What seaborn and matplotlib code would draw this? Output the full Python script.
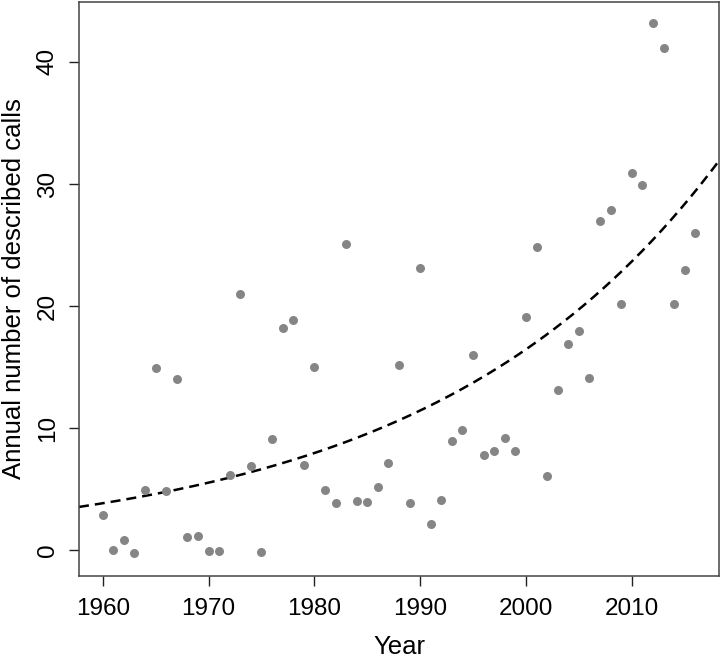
import numpy as np
import pandas as pd
import seaborn as sns
import matplotlib.pyplot as plt

# ======================================
# DATA
# ======================================

years = list(range(1960, 2017))

calls = [
    2.86, 0.05, 0.84, -0.19, 4.96, 14.9, 4.85, 14.04, 1.06, 1.17,
    -0.08, -0.08, 6.13, 20.95, 6.9, -0.1, 9.13, 18.18, 18.86, 7.02,
    15.0, 4.95, 3.89, 25.1, 4.05, 4.0, 5.17, 7.16, 15.14, 3.85,
    23.14, 2.15, 4.15, 8.98, 9.83, 15.96, 7.8, 8.13, 9.19, 8.13,
    19.07, 24.87, 6.08, 13.15, 16.92, 17.95, 14.11, 26.98, 27.85, 20.15,
    30.9, 29.9, 43.17, 41.1, 20.15, 22.93, 25.98,
]

# dashed trend curve, values read at a few years
curve_years = [1958, 1960, 1970, 1980, 1990, 2000, 2010, 2018]
curve_values = [3.57, 3.9, 5.5, 8.0, 11.4, 16.4, 23.8, 31.6]

x_ticks = [1960, 1970, 1980, 1990, 2000, 2010]
y_ticks = [0, 10, 20, 30, 40]

df = pd.DataFrame({"Year": years, "Calls": calls})

# exponential through the read curve values
slope, intercept = np.polyfit(curve_years, np.log(curve_values), 1)
x_lo, x_hi = 1957.76, 2018.24
fit_x = np.linspace(x_lo, x_hi, 200)
fit_df = pd.DataFrame({"Year": fit_x, "Fit": np.exp(intercept + slope * fit_x)})

# ======================================
# PLOT
# ======================================

sns.set_style("white")
plt.rcParams["font.family"] = ["Liberation Sans", "DejaVu Sans"]
plt.rcParams["text.color"] = "black"
plt.rcParams["axes.labelcolor"] = "black"
plt.rcParams["xtick.color"] = "black"
plt.rcParams["ytick.color"] = "black"

fig = plt.figure(figsize=(7.21, 6.6), dpi=100)
ax = fig.add_axes([79 / 721, 1 - 576 / 660, 640 / 721, 574 / 660])

sns.scatterplot(
    data=df, x="Year", y="Calls", ax=ax,
    color="#858585", s=42, linewidth=0, zorder=3
)

sns.lineplot(
    data=fit_df, x="Year", y="Fit", ax=ax,
    color="black", linewidth=1.8, zorder=2
)
ax.lines[-1].set_dashes((4.0, 2.4))

ax.set_xlim(x_lo, x_hi)
ax.set_ylim(-2.1, 44.9)
ax.set_xticks(x_ticks)
ax.set_yticks(y_ticks)

ax.tick_params(
    axis="both", direction="out", length=7.5, width=1,
    color="#222222", labelsize=17.5, labelcolor="black",
    bottom=True, left=True
)
ax.tick_params(axis="x", pad=8)
ax.tick_params(axis="y", pad=7)
for lab in ax.get_yticklabels():
    lab.set_rotation(90)
    lab.set_va("center")

for side in ax.spines.values():
    side.set_color("#444444")
    side.set_linewidth(1.1)

ax.set_xlabel("Year", fontsize=18.5, labelpad=11)
ax.set_ylabel("Annual number of described calls", fontsize=18.5, labelpad=8)

fig.savefig("out.png", dpi=100)
